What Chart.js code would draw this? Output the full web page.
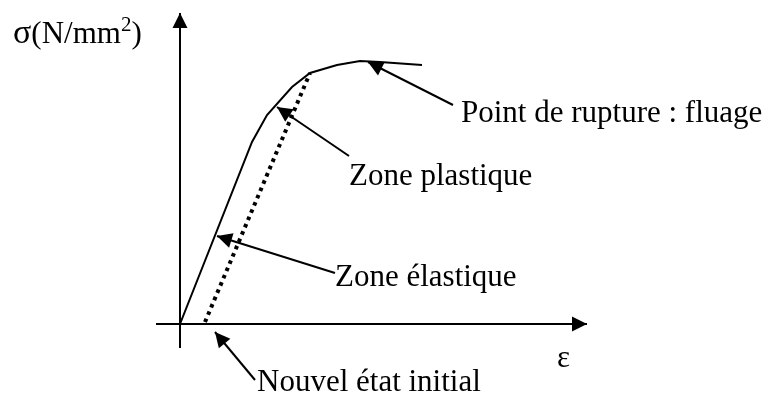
<!DOCTYPE html>
<html>
<head>
<meta charset="utf-8">
<script src="https://cdn.jsdelivr.net/npm/chart.js@4.4.1/dist/chart.umd.min.js"></script>
<style>
  html, body { margin: 0; padding: 0; background: #fff; }
  #wrap { width: 774px; height: 396px; }
</style>
</head>
<body>
<div id="wrap"><canvas id="chart" width="774" height="396"></canvas></div>
<script>
// stress-strain curve (arbitrary units)
const curveEps   = [0, 72, 87, 112, 130, 157, 180, 200, 242];
const curveSigma = [0, 182, 209, 237, 251, 259, 263, 262, 259];

// unloading line (dotted) back to the new initial state
const dottedEps   = [25, 130];
const dottedSigma = [2, 251];

// axes (drawn with arrow at the end)
const xAxisEps   = [-24, 407];
const xAxisSigma = [0, 0];
const yAxisEps   = [0, 0];
const yAxisSigma = [-24, 311];

// annotations: label, arrow tail, arrow tip
const noteLabels = ["Point de rupture : fluage", "Zone plastique", "Zone élastique", "Nouvel état initial"];
const noteTail   = [[273, 219], [169, 168], [155, 51], [75, -56]];
const noteTip    = [[188, 262], [97, 217], [37, 88], [35, -8]];
const noteText   = [[281, 202], [169, 139], [155, 38], [77, -67]];

const FONT = "31px 'Liberation Serif', 'Times New Roman', serif";

function pts(xs, ys) {
  return xs.map((x, i) => ({ x: x, y: ys[i] }));
}

const datasets = [
  { data: pts(curveEps, curveSigma), borderColor: "#000", borderWidth: 2 },
  { data: pts(dottedEps, dottedSigma), borderColor: "#000", borderWidth: 4, borderDash: [3.6, 4.3], borderCapStyle: "butt" },
  { data: pts(xAxisEps, xAxisSigma), borderColor: "#000", borderWidth: 2, arrow: true },
  { data: pts(yAxisEps, yAxisSigma), borderColor: "#000", borderWidth: 2, arrow: true }
];
noteTail.forEach((t, i) => {
  datasets.push({
    data: [{ x: t[0], y: t[1] }, { x: noteTip[i][0], y: noteTip[i][1] }],
    borderColor: "#000", borderWidth: 2, arrow: true
  });
});
datasets.forEach(d => {
  d.showLine = true;
  d.pointRadius = 0;
  d.tension = 0;
  d.fill = false;
});

// arrowheads + text
const decor = {
  id: "decor",
  afterDatasetsDraw(chart) {
    const ctx = chart.ctx;
    const xs = chart.scales.x, ys = chart.scales.y;
    ctx.save();
    ctx.fillStyle = "#000";
    chart.data.datasets.forEach(d => {
      if (!d.arrow) return;
      const n = d.data.length;
      const a = d.data[n - 2], b = d.data[n - 1];
      const x1 = xs.getPixelForValue(a.x), y1 = ys.getPixelForValue(a.y);
      const x2 = xs.getPixelForValue(b.x), y2 = ys.getPixelForValue(b.y);
      const ang = Math.atan2(y2 - y1, x2 - x1);
      const len = 15, half = 7.5;
      ctx.beginPath();
      ctx.moveTo(x2, y2);
      ctx.lineTo(x2 - len * Math.cos(ang) + half * Math.sin(ang), y2 - len * Math.sin(ang) - half * Math.cos(ang));
      ctx.lineTo(x2 - len * Math.cos(ang) - half * Math.sin(ang), y2 - len * Math.sin(ang) + half * Math.cos(ang));
      ctx.closePath();
      ctx.fill();
    });

    ctx.font = FONT;
    ctx.textBaseline = "alphabetic";
    ctx.textAlign = "left";
    noteLabels.forEach((lab, i) => {
      ctx.fillText(lab, xs.getPixelForValue(noteText[i][0]), ys.getPixelForValue(noteText[i][1]));
    });

    // axis titles
    let px = xs.getPixelForValue(-167), py = ys.getPixelForValue(281);
    ctx.font = "34px 'Liberation Serif', 'Times New Roman', serif";
    ctx.fillText("σ", px, py);
    px += ctx.measureText("σ").width;
    ctx.font = FONT;
    const head = "(N/mm";
    ctx.fillText(head, px, py);
    px += ctx.measureText(head).width;
    ctx.font = "21px 'Liberation Serif', 'Times New Roman', serif";
    ctx.fillText("2", px, py - 12);
    px += ctx.measureText("2").width;
    ctx.font = FONT;
    ctx.fillText(")", px, py);

    ctx.fillText("ε", xs.getPixelForValue(377), ys.getPixelForValue(-43));
    ctx.restore();
  }
};

new Chart(document.getElementById("chart"), {
  type: "scatter",
  data: { datasets: datasets },
  options: {
    responsive: false,
    animation: false,
    layout: { padding: 0 },
    plugins: { legend: { display: false }, tooltip: { enabled: false } },
    scales: {
      x: { type: "linear", min: -180, max: 594, display: false },
      y: { type: "linear", min: -72, max: 324, display: false }
    }
  },
  plugins: [decor]
});
</script>
</body>
</html>
